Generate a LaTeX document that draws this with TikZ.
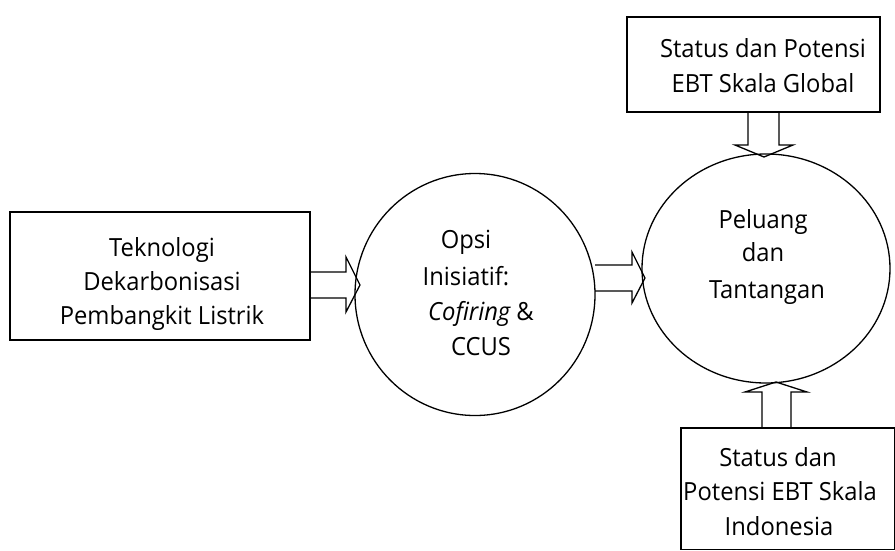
\documentclass[tikz,border=0pt]{standalone}
\usepackage{fontspec}
\usetikzlibrary{shapes.geometric}
\setmainfont[FakeStretch=0.95]{Open Sans}
\begin{document}
\begin{tikzpicture}[x=1pt,y=-1pt,
  line width=1.3pt,
  box/.style={draw,line width=1.3pt},
  lbl/.style={font=\fontsize{25}{30}\selectfont,inner sep=0pt,anchor=base},
  barrow/.style={draw,line width=1.3pt,line join=miter}]
\useasboundingbox (0,0) rectangle (895,550);
% boxes
\draw[box] (10,212) rectangle (310,340);
\draw[box] (627,17) rectangle (880,112);
\draw[box] (681,428) rectangle (895,549.5);
% circles
\node[draw,ellipse,minimum width=240pt,minimum height=242pt,line width=1.3pt,inner sep=0pt] (c1) at (475,294.5) {};
\node[draw,ellipse,minimum width=248pt,minimum height=229pt,line width=1.3pt,inner sep=0pt] (c2) at (766,268.5) {};
% block arrows
\draw[barrow] (310,272) -- (346,272) -- (346,257) -- (360,285) -- (346,312) -- (346,298) -- (310,298);
\draw[barrow] (595,265) -- (632,265) -- (632,252) -- (645,278) -- (632,303) -- (632,291) -- (595,291);
\draw[barrow] (748,112) -- (748,145) -- (735,145) -- (764,157) -- (793,145) -- (779,145) -- (779,112);
\draw[barrow] (762,428) -- (762,392) -- (745,392) -- (776,382) -- (807,392) -- (791,392) -- (791,428);
% texts
\node[lbl] (t1) at (162,256) {Teknologi};
\node[lbl] (t2) at (162,290) {Dekarbonisasi};
\node[lbl] (t3) at (162,324) {Pembangkit Listrik};
\node[lbl] (o1) at (466,248) {Opsi};
\node[lbl] (o2) at (466,285) {Inisiatif:};
\node[lbl] (o3) at (481,320) {\itshape Cofiring\upshape\ \&};
\node[lbl] (o4) at (481,355) {CCUS};
\node[lbl] (p1) at (763,228) {Peluang};
\node[lbl] (p2) at (763,261) {dan};
\node[lbl] (p3) at (767,298) {Tantangan};
\node[lbl] (s1) at (763,57) {Status dan Potensi};
\node[lbl] (s2) at (763,92) {EBT Skala Global};
\node[lbl] (i1) at (778,466) {Status dan};
\node[lbl] (i2) at (780,500) {Potensi EBT Skala};
\node[lbl] (i3) at (779,535) {Indonesia};
\end{tikzpicture}
\end{document}
